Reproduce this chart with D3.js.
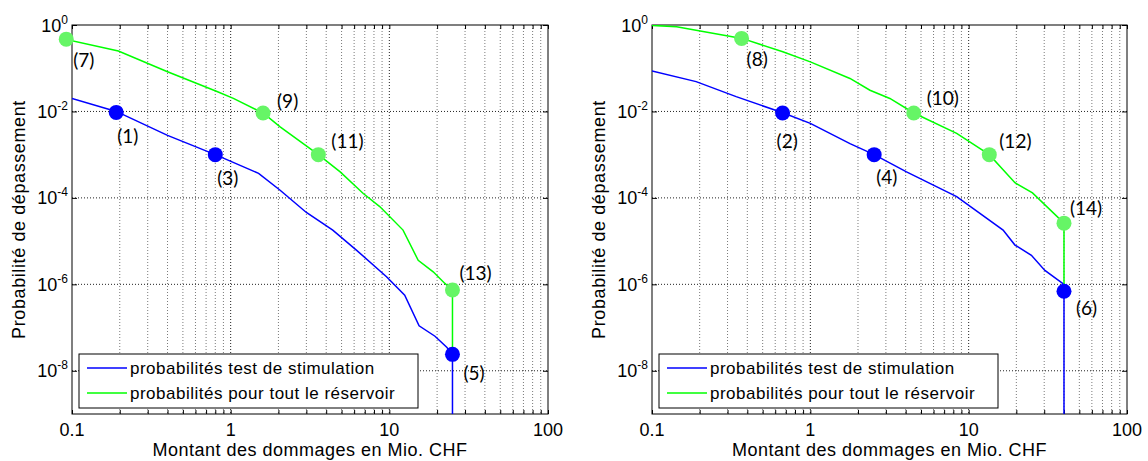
<!DOCTYPE html>
<html>
<head>
<meta charset="utf-8">
<script src="https://cdn.jsdelivr.net/npm/d3@7"></script>
<style>
  body { margin: 0; background: #fff; }
  text { font-family: "Liberation Sans", Arial, sans-serif; fill: #000; }
  .pt-label { font-family: Lato, "Open Sans", sans-serif; }
</style>
</head>
<body>
<svg id="chart" width="1148" height="461"></svg>
<script>
// tick values
const xTicks = [0.1, 1, 10, 100];
const yTicks = [1, 1e-2, 1e-4, 1e-6, 1e-8];
const yTickExp = ["0", "-2", "-4", "-6", "-8"];

const legendLabels = ["probabilités test de stimulation", "probabilités pour tout le réservoir"];

// left panel curves
const leftBlueX = [0.1, 0.19, 0.4, 0.8, 1.5, 2.05, 3.0, 4.4, 6.2, 9.6, 12.5, 15.4, 19.4, 23, 25, 25];
const leftBlueP = [0.02, 0.01, 2.8e-3, 1e-3, 3.7e-4, 1.5e-4, 4.6e-5, 1.8e-5, 6.2e-6, 1.5e-6, 5.6e-7, 1.1e-7, 6.3e-8, 3.5e-8, 2.4e-8, 1e-10];
const leftGreenX = [0.09, 0.196, 0.4, 0.82, 1.04, 1.6, 2.05, 3.57, 4.9, 6.85, 8.7, 12.2, 15.2, 18.9, 22.4, 25, 25];
const leftGreenP = [0.47, 0.25, 0.083, 0.029, 0.02, 0.0092, 4.4e-3, 1e-3, 4e-4, 1.26e-4, 6.3e-5, 1.8e-5, 3.6e-6, 1.95e-6, 1.05e-6, 7.4e-7, 2.4e-8];

// left panel marked points
const leftBlueMarkX = [0.19, 0.8, 25];
const leftBlueMarkP = [0.0095, 1e-3, 2.4e-8];
const leftBlueMarkLbl = ["(1)", "(3)", "(5)"];
const leftGreenMarkX = [0.092, 1.6, 3.57, 25];
const leftGreenMarkP = [0.47, 0.0092, 1e-3, 7.4e-7];
const leftGreenMarkLbl = ["(7)", "(9)", "(11)", "(13)"];

// right panel curves
const rightBlueX = [0.1, 0.19, 0.34, 0.67, 1.0, 1.78, 2.53, 4.05, 8.4, 16.5, 19.6, 24.9, 30.3, 40, 40];
const rightBlueP = [0.086, 0.049, 0.022, 0.0093, 5.3e-3, 1.8e-3, 1e-3, 4e-4, 1.07e-4, 1.8e-5, 8.1e-6, 4.7e-6, 2.1e-6, 1e-6, 1e-10];
const rightGreenX = [0.1, 0.143, 0.37, 0.67, 1.0, 1.78, 2.38, 3.18, 4.5, 8.4, 13.5, 19.6, 25.3, 40, 40];
const rightGreenP = [0.98, 0.91, 0.49, 0.24, 0.14, 0.058, 0.031, 0.02, 0.0092, 3.1e-3, 1e-3, 2.24e-4, 1.3e-4, 2.6e-5, 1e-6];

// right panel marked points
const rightBlueMarkX = [0.668, 2.53, 40];
const rightBlueMarkP = [0.0092, 1e-3, 6.9e-7];
const rightBlueMarkLbl = ["(2)", "(4)", "(6)"];
const rightGreenMarkX = [0.368, 4.5, 13.5, 40];
const rightGreenMarkP = [0.49, 0.0092, 1e-3, 2.6e-5];
const rightGreenMarkLbl = ["(8)", "(10)", "(12)", "(14)"];

// label placement relative to marker: [dx to left edge, dy to middle]
const leftBlueOff = [[1, 23], [2, 23], [11, 18]];
const leftGreenOff = [[7, 20], [14, -13], [13, -14], [7, -17]];
const rightBlueOff = [[-6, 27], [2, 22], [12, 16]];
const rightGreenOff = [[5, 20], [13, -16], [10, -14], [6, -16]];

const BLUE = "#0000ff", GREEN = "#00ff00", GREEN_MARK = "#66f566";

const svg = d3.select("#chart");

function zip(xs, ps) { return xs.map((x, i) => [x, ps[i]]); }

function drawPanel(id, left, right, curves, marks) {
    const top = 25, bottom = 414;
    const x = d3.scaleLog().domain([0.1, 100]).range([left, right]);
    const y = d3.scaleLog().domain([1e-9, 1]).range([bottom, top]);
    const g = svg.append("g");

    g.append("clipPath").attr("id", "clip" + id)
      .append("rect").attr("x", left).attr("y", top)
      .attr("width", right - left).attr("height", bottom - top);

    // grid: minor x
    const minorX = [];
    [0.1, 1, 10].forEach(d => { for (let k = 2; k <= 9; k++) minorX.push(d * k); });
    g.selectAll(".gminor").data(minorX).enter().append("line")
      .attr("x1", d => x(d)).attr("x2", d => x(d))
      .attr("y1", top).attr("y2", bottom)
      .attr("stroke", "#7a7a7a").attr("stroke-width", 1)
      .attr("stroke-dasharray", "1,2");
    g.selectAll(".gmajx").data([1, 10]).enter().append("line")
      .attr("x1", d => x(d)).attr("x2", d => x(d))
      .attr("y1", top).attr("y2", bottom)
      .attr("stroke", "#222").attr("stroke-width", 1)
      .attr("stroke-dasharray", "1,2");
    g.selectAll(".gmajy").data(yTicks.slice(1)).enter().append("line")
      .attr("x1", left).attr("x2", right)
      .attr("y1", d => y(d)).attr("y2", d => y(d))
      .attr("stroke", "#222").attr("stroke-width", 1)
      .attr("stroke-dasharray", "1,2");

    // axes (inside ticks) via d3 axis
    const xb = d3.axisBottom(x).tickValues(minorX.concat(xTicks)).tickSize(-4).tickFormat("");
    const xt = d3.axisTop(x).tickValues(minorX.concat(xTicks)).tickSize(-4).tickFormat("");
    const yl = d3.axisLeft(y).tickValues(yTicks).tickSize(-5).tickFormat("");
    const yr = d3.axisRight(y).tickValues(yTicks).tickSize(-5).tickFormat("");
    [[xb, `translate(0,${bottom})`], [xt, `translate(0,${top})`],
     [yl, `translate(${left},0)`], [yr, `translate(${right},0)`]].forEach(([ax, tr]) => {
        const a = g.append("g").attr("transform", tr).call(ax);
        a.select(".domain").remove();
        a.selectAll("line").attr("stroke", "#000");
    });
    g.append("rect").attr("x", left).attr("y", top)
      .attr("width", right - left).attr("height", bottom - top)
      .attr("fill", "none").attr("stroke", "#000").attr("stroke-width", 1);

    // tick labels
    g.selectAll(".xl").data(xTicks).enter().append("text")
      .attr("x", d => x(d)).attr("y", 436)
      .attr("text-anchor", "middle").style("font-size", "18px")
      .text(d => d3.format("~g")(d));
    const yt = g.selectAll(".yl").data(yTicks).enter().append("text")
      .attr("x", left - 4).attr("y", d => y(d) + 6.5)
      .attr("text-anchor", "end").style("font-size", "18px");
    yt.append("tspan").text("10");
    yt.append("tspan").attr("dy", -8).style("font-size", "12px").text((d, i) => yTickExp[i]);

    // axis titles
    g.append("text").attr("x", (left + right) / 2).attr("y", 456)
      .attr("text-anchor", "middle").style("font-size", "18px")
      .style("letter-spacing", "0.5px")
      .text("Montant des dommages en Mio. CHF");
    g.append("text")
      .attr("transform", `translate(${left - 47},${(top + bottom) / 2}) rotate(-90)`)
      .attr("text-anchor", "middle").style("font-size", "18px")
      .style("letter-spacing", "0.6px")
      .text("Probabilité de dépassement");

    // curves
    const line = d3.line().x(d => x(d[0])).y(d => y(d[1]));
    const cg = g.append("g").attr("clip-path", `url(#clip${id})`);
    curves.forEach(c => {
        cg.append("path").datum(c.data).attr("d", line)
          .attr("fill", "none").attr("stroke", c.color).attr("stroke-width", 1.5);
    });

    // markers + labels
    marks.forEach(m => {
        g.selectAll(null).data(m.data).enter().append("circle")
          .attr("cx", d => x(d[0])).attr("cy", d => y(d[1])).attr("r", 7.5)
          .attr("fill", m.color);
        g.selectAll(null).data(m.data).enter().append("text")
          .attr("class", "pt-label")
          .attr("x", (d, i) => x(d[0]) + m.off[i][0])
          .attr("y", (d, i) => y(d[1]) + m.off[i][1])
          .attr("dominant-baseline", "central")
          .style("font-size", "19px")
          .text((d, i) => m.labels[i]);
    });

    // legend
    const lx = left + 7, ly = 354;
    g.append("rect").attr("x", lx).attr("y", ly).attr("width", 339).attr("height", 54)
      .attr("fill", "#fff").attr("stroke", "#000").attr("stroke-width", 1);
    [BLUE, GREEN].forEach((c, i) => {
        const yy = ly + 14 + i * 25;
        g.append("line").attr("x1", lx + 8).attr("x2", lx + 48)
          .attr("y1", yy).attr("y2", yy).attr("stroke", c).attr("stroke-width", 1.5);
        g.append("text").attr("x", lx + 51).attr("y", yy + 6)
          .style("font-size", "17px").style("letter-spacing", "0.5px")
          .text(legendLabels[i]);
    });
}

drawPanel("L", 72, 548,
    [{ data: zip(leftBlueX, leftBlueP), color: BLUE },
     { data: zip(leftGreenX, leftGreenP), color: GREEN }],
    [{ data: zip(leftGreenMarkX, leftGreenMarkP), color: GREEN_MARK, labels: leftGreenMarkLbl, off: leftGreenOff },
     { data: zip(leftBlueMarkX, leftBlueMarkP), color: BLUE, labels: leftBlueMarkLbl, off: leftBlueOff }]);

drawPanel("R", 652, 1127,
    [{ data: zip(rightBlueX, rightBlueP), color: BLUE },
     { data: zip(rightGreenX, rightGreenP), color: GREEN }],
    [{ data: zip(rightGreenMarkX, rightGreenMarkP), color: GREEN_MARK, labels: rightGreenMarkLbl, off: rightGreenOff },
     { data: zip(rightBlueMarkX, rightBlueMarkP), color: BLUE, labels: rightBlueMarkLbl, off: rightBlueOff }]);
</script>
</body>
</html>
